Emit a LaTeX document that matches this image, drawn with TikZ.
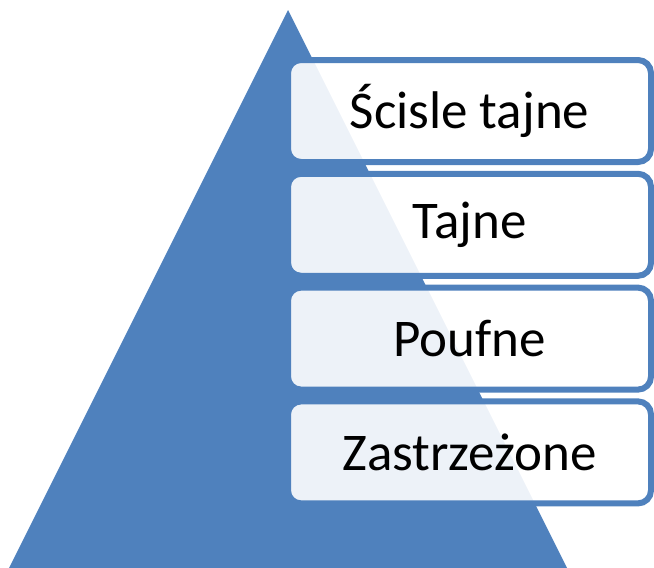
\documentclass[tikz,border=0pt]{standalone}
\usepackage{fontspec}
\setmainfont{Carlito}
\usetikzlibrary{positioning}
\definecolor{pyrblue}{HTML}{4F81BD}
\begin{document}
\begin{tikzpicture}[x=1pt,y=1pt]
\tikzset{level/.style={draw=pyrblue, line width=6pt, rounded corners=13pt, fill=white, fill opacity=0.9, text opacity=1,
  minimum width=363pt, minimum height=102pt, inner sep=0pt, outer sep=0pt,
  font=\fontsize{53}{62}\selectfont}}
\useasboundingbox (0,0) rectangle (654,-568);
\fill [pyrblue] (288,-10) -- (567,-568) -- (9,-568) -- cycle;
\node [level] (top) at (469.5,-111) {Ścisle tajne};
\node [level, below=11.8pt of top] (secret) {Tajne};
\node [level, below=11.8pt of secret] (conf) {Poufne};
\node [level, below=11.8pt of conf] (restr) {Zastrzeżone};
\end{tikzpicture}
\end{document}
